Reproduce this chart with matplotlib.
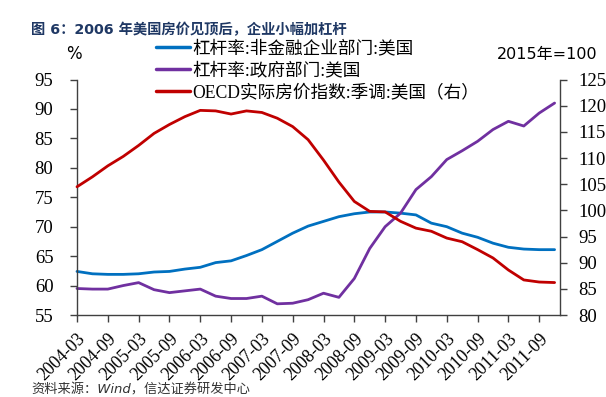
import matplotlib
matplotlib.use("Agg")
import matplotlib.pyplot as plt
import numpy as np

plt.rcParams['font.serif'] = ['Liberation Serif', 'DejaVu Serif']
plt.rcParams['font.family'] = ['serif', 'Noto Sans CJK SC', 'DejaVu Sans']

quarters = ["2004-03", "2004-06", "2004-09", "2004-12", "2005-03", "2005-06", "2005-09", "2005-12",
            "2006-03", "2006-06", "2006-09", "2006-12", "2007-03", "2007-06", "2007-09", "2007-12",
            "2008-03", "2008-06", "2008-09", "2008-12", "2009-03", "2009-06", "2009-09", "2009-12",
            "2010-03", "2010-06", "2010-09", "2010-12", "2011-03", "2011-06", "2011-09", "2011-12"]

corp_leverage = [62.4, 62.0, 61.9, 61.9, 62.0, 62.3, 62.4, 62.8, 63.1, 63.9, 64.2, 65.1,
                 66.1, 67.5, 68.9, 70.1, 70.9, 71.7, 72.2, 72.5, 72.5, 72.3, 72.0, 70.6,
                 70.0, 68.9, 68.2, 67.2, 66.5, 66.2, 66.1, 66.1]

gov_leverage = [59.5, 59.4, 59.4, 60.0, 60.5, 59.3, 58.8, 59.1, 59.4, 58.2, 57.8, 57.8,
                58.2, 56.9, 57.0, 57.6, 58.7, 58.0, 61.2, 66.3, 70.0, 72.3, 76.3, 78.5,
                81.4, 82.9, 84.5, 86.5, 87.9, 87.1, 89.3, 91.0]

house_price = [104.5, 106.4, 108.5, 110.3, 112.4, 114.7, 116.4, 117.9, 119.1, 119.0, 118.4, 119.0,
               118.7, 117.6, 116.0, 113.5, 109.6, 105.4, 101.7, 99.8, 99.7, 97.9, 96.6, 96.0,
               94.7, 94.0, 92.5, 90.9, 88.6, 86.7, 86.3, 86.2]

tick_labels = quarters[::2]

label_corp = "杠杆率:非金融企业部门:美国"
label_gov = "杠杆率:政府部门:美国"
label_house = "OECD实际房价指数:季调:美国（右）"

W, H = 606, 397
fig = plt.figure(figsize=(W / 100, H / 100), dpi=100)
ax = fig.add_axes([77 / W, 1 - 315 / H, (560 - 77) / W, (315 - 79.5) / H])
ax2 = ax.twinx()

x = np.arange(len(quarters))
blue, purple, red = "#0070C0", "#7030A0", "#C00000"
l1, = ax.plot(x, corp_leverage, color=blue, lw=2.0, solid_capstyle='round',
              solid_joinstyle='round', clip_on=False)
l2, = ax.plot(x, gov_leverage, color=purple, lw=2.0, solid_capstyle='round',
              solid_joinstyle='round', clip_on=False)
l3, = ax2.plot(x, house_price, color=red, lw=2.0, solid_capstyle='round',
               solid_joinstyle='round', clip_on=False)

ax.set_xlim(0, 31.35)
ax.set_ylim(55, 95)
ax2.set_ylim(80, 125)
ax.set_yticks(np.arange(55, 96, 5))
ax2.set_yticks(np.arange(80, 126, 5))
ax.set_xticks(x[::2])
ax.set_xticklabels(tick_labels, rotation=45, ha='right', rotation_mode='anchor')

spine_c = "#404040"
for a in (ax, ax2):
    a.spines['top'].set_visible(False)
    for s in a.spines.values():
        s.set_color(spine_c)
        s.set_linewidth(1.0)
ax.spines['right'].set_visible(False)
ax2.spines['left'].set_visible(False)
ax2.spines['bottom'].set_visible(False)

ax.tick_params(axis='y', direction='out', length=5, width=1, color=spine_c, pad=12, labelsize=13.5)
ax.tick_params(axis='x', direction='out', length=5, width=1, color=spine_c, pad=6, labelsize=12.8)
ax2.tick_params(axis='y', direction='out', length=5, width=1, color=spine_c, pad=8, labelsize=13.5)

# legend
leg = fig.legend([l1, l2, l3], [label_corp, label_gov, label_house],
                 loc='upper left', bbox_to_anchor=(156 / W, 1 - 40 / H),
                 frameon=False, handlelength=1.9, handletextpad=0.15,
                 labelspacing=0.3, borderpad=0, borderaxespad=0,
                 prop={'family': ['serif', 'Noto Sans CJK SC'], 'size': 12.7})
for h in leg.legend_handles:
    h.set_linewidth(2.5)

fig.text(31 / W, 1 - 30 / H, "图 6：2006 年美国房价见顶后，企业小幅加杠杆",
         fontsize=10.3, fontweight='bold', color="#1F3864", va='center', ha='left',
         family=['DejaVu Sans', 'Noto Sans CJK SC'])
fig.text(74 / W, 1 - 54 / H, "%", fontsize=12, va='center', ha='center',
         family=['DejaVu Sans', 'Noto Sans CJK SC'])
fig.text(597 / W, 1 - 55 / H, "2015年=100", fontsize=11.5, va='center', ha='right',
         family=['DejaVu Sans', 'Noto Sans CJK SC'])
fig.text(31 / W, 1 - 390 / H, "资料来源：Wind，信达证券研发中心", fontsize=9.5, va='center', ha='left',
         style='italic', color="#333333", family=['DejaVu Sans', 'Noto Sans CJK SC'])

fig.savefig("out.png", dpi=100)
